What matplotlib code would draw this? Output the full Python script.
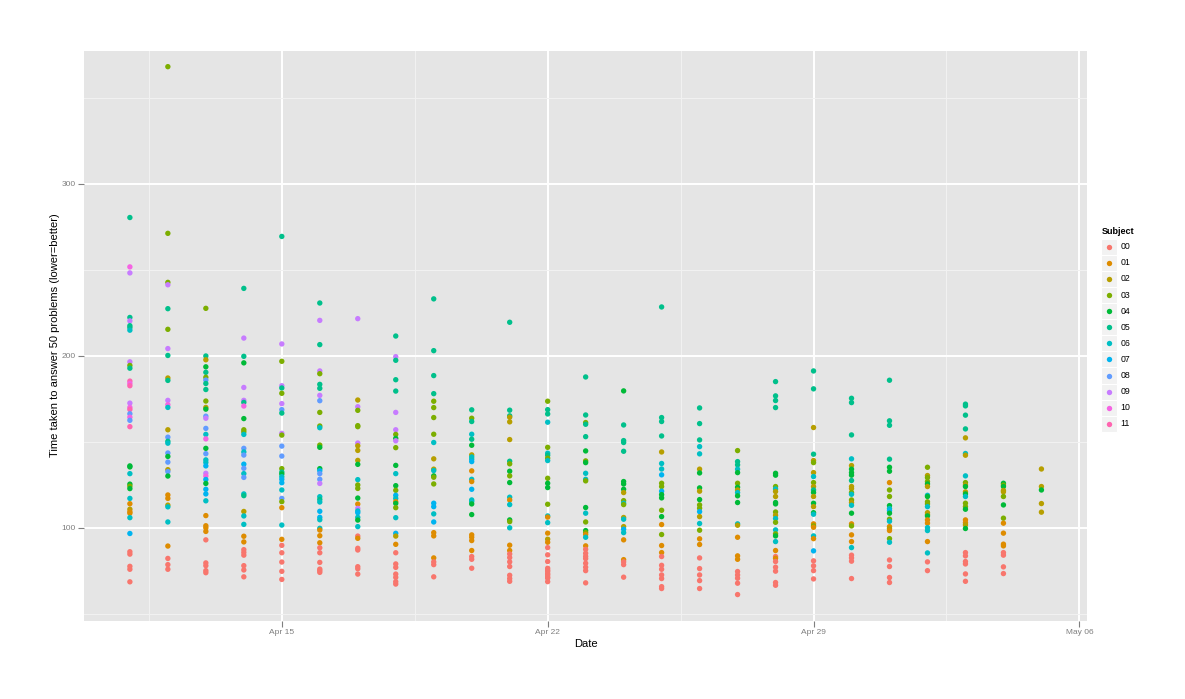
import numpy as np
import pandas as pd
import matplotlib
matplotlib.use("Agg")
import matplotlib.pyplot as plt
import matplotlib.dates as mdates
from matplotlib.patches import Rectangle

plt.rcParams['font.family'] = ['Liberation Sans', 'DejaVu Sans']

subjects = ["00", "01", "02", "03", "04", "05", "06", "07", "08", "09", "10", "11"]
colours = ["#F8766D", "#DE8C00", "#B79F00", "#7CAE00", "#00BA38", "#00C08B",
           "#00BFC4", "#00B4F0", "#619CFF", "#C77CFF", "#F564E3", "#FF64B0"]

apr11 = [("05", 280.5), ("10", 251.8), ("09", 248.3), ("05", 222.4), ("09", 220.4), ("05", 217.6),
         ("05", 216.5), ("06", 215), ("09", 196.6), ("03", 194.5), ("05", 192.9), ("11", 185.4),
         ("10", 184), ("11", 182.7), ("09", 172.6), ("10", 170.1), ("11", 168.9), ("08", 166.4),
         ("10", 164.4), ("08", 162.6), ("11", 158.9), ("04", 136.1), ("04", 135.5), ("06", 131.6),
         ("04", 125.5), ("03", 124.3), ("04", 122.9), ("06", 117.2), ("01", 114.1), ("02", 110.9),
         ("01", 109.4), ("01", 108.6), ("06", 106), ("07", 96.8), ("00", 86.2), ("00", 84.8),
         ("00", 77.7), ("00", 76), ("00", 68.7)]
apr12 = [("03", 368.2), ("03", 271.3), ("03", 242.8), ("09", 241.4), ("05", 227.5), ("03", 215.5),
         ("09", 204.3), ("05", 200.3), ("02", 187.2), ("05", 185.8), ("09", 174.2), ("10", 171.7),
         ("06", 170.1), ("02", 157.1), ("08", 152.8), ("05", 150.4), ("06", 149.3), ("08", 143.6),
         ("04", 141.6), ("08", 138.3), ("02", 133.9), ("08", 132.8), ("04", 130.2), ("01", 119.2),
         ("01", 117.2), ("02", 113.3), ("06", 112.3), ("06", 103.5), ("01", 89.5), ("00", 82.3),
         ("00", 78.7), ("00", 76)]
apr13 = [("03", 227.7), ("05", 200), ("02", 197.8), ("04", 193.7), ("05", 190.5), ("03", 187.6),
         ("08", 186), ("05", 184), ("05", 180.5), ("03", 173.8), ("02", 170.1), ("04", 169.1),
         ("08", 165), ("09", 163.8), ("08", 157.9), ("06", 154.4), ("10", 151.8), ("04", 146.3),
         ("08", 143.2), ("06", 139.6), ("06", 138.1), ("07", 136.1), ("09", 131.8), ("10", 130.2),
         ("07", 128.2), ("04", 125.9), ("07", 122.5), ("07", 119.8), ("06", 115.8), ("01", 107.2),
         ("01", 101.3), ("01", 100.1), ("01", 98), ("00", 93.1), ("00", 79.7), ("00", 78.1),
         ("00", 75.2), ("00", 74)]
apr14 = [("05", 239.3), ("09", 210.4), ("05", 199.8), ("04", 196), ("09", 181.7), ("09", 174.2),
         ("05", 173), ("10", 170.9), ("04", 163.6), ("03", 157.1), ("03", 155.9), ("06", 154.4),
         ("08", 146.3), ("06", 144.2), ("08", 142.4), ("07", 137.1), ("08", 134.7), ("06", 131.6),
         ("08", 129.4), ("06", 119.8), ("05", 118.8), ("02", 109.6), ("06", 107), ("06", 102.1),
         ("01", 95.2), ("01", 91.9), ("00", 87.4), ("00", 85.8), ("00", 84.2), ("00", 78.1),
         ("00", 75.6), ("00", 71.6)]
apr15 = [("05", 269.5), ("09", 207), ("03", 196.9), ("09", 182.7), ("05", 181.4), ("03", 178.3),
         ("09", 172.3), ("08", 168.8), ("05", 166.8), ("09", 155), ("03", 154), ("08", 147.6),
         ("08", 141.8), ("03", 134.5), ("05", 132.5), ("04", 131.4), ("06", 129.8), ("07", 128.3),
         ("07", 126.3), ("06", 122.1), ("08", 117.2), ("03", 115.3), ("01", 111.8), ("06", 101.7),
         ("01", 93.4), ("00", 89.9), ("00", 85.6), ("00", 80.2), ("00", 74.8), ("00", 70.1)]
apr16 = [("05", 230.8), ("09", 220.7), ("05", 206.6), ("09", 191.3), ("03", 189.7), ("05", 183.5),
         ("05", 181.2), ("09", 177.1), ("08", 174), ("03", 167.2), ("03", 159.3), ("06", 158.3),
         ("03", 148.2), ("04", 146.9), ("04", 134.5), ("07", 133.3), ("08", 131.6), ("08", 128.3),
         ("09", 125.9), ("06", 118.2), ("05", 116.6), ("06", 115.1), ("07", 109.7), ("07", 106.2),
         ("06", 104.8), ("06", 99.8), ("01", 98.8), ("01", 95.5), ("01", 91.4), ("00", 88.5),
         ("00", 85.6), ("00", 80), ("00", 76.1), ("00", 75.2), ("00", 74.2)]
apr17 = [("09", 221.7), ("02", 174.4), ("09", 170.5), ("03", 168.4), ("03", 159.5), ("03", 158.9),
         ("09", 149.4), ("02", 147.8), ("02", 145.1), ("02", 139.3), ("04", 137), ("06", 128.1),
         ("03", 125), ("03", 123), ("04", 117.4), ("01", 113.9), ("09", 111.4), ("06", 109.9),
         ("07", 108.9), ("06", 106.2), ("04", 104.6), ("06", 100.8), ("00", 95.3), ("01", 94),
         ("00", 88.2), ("00", 87.2), ("00", 77.5), ("00", 76.3), ("00", 73.2)]
apr18 = [("05", 211.6), ("09", 199.6), ("05", 197.5), ("05", 186.2), ("05", 179.6), ("09", 167.2),
         ("09", 157.1), ("03", 154.4), ("04", 152.1), ("09", 150.7), ("03", 146.7), ("04", 136.4),
         ("06", 131.6), ("04", 124.6), ("03", 121.9), ("07", 119), ("06", 117.2), ("01", 115.3),
         ("04", 114.3), ("03", 111.8), ("06", 106), ("07", 96.9), ("02", 95.3), ("01", 90.5),
         ("00", 85.6), ("00", 79.1), ("00", 77.1), ("00", 73.2), ("00", 71.3), ("00", 68.8),
         ("00", 67.4)]
apr19 = [("05", 233.2), ("05", 203.1), ("05", 188.6), ("05", 178.1), ("03", 173.7), ("03", 170),
         ("03", 164.2), ("03", 154.5), ("06", 149.7), ("02", 140.2), ("02", 134.2), ("06", 133.4),
         ("04", 130.3), ("03", 129.5), ("03", 125.6), ("07", 114.4), ("07", 112.4), ("06", 108.2),
         ("07", 103.5), ("01", 97.3), ("01", 95.4), ("01", 82.6), ("00", 80.3), ("00", 78.7),
         ("00", 71.6)]
apr20 = [("05", 168.7), ("03", 163.8), ("05", 161.9), ("06", 154.5), ("05", 151.6), ("04", 148.1),
         ("02", 142.5), ("06", 141.3), ("06", 140), ("07", 138.6), ("01", 133.2), ("06", 128.3),
         ("01", 127), ("07", 122.5), ("06", 116.3), ("06", 115.4), ("04", 114), ("04", 107.8),
         ("01", 96), ("01", 94.6), ("01", 92.7), ("01", 86.9), ("00", 83.4), ("00", 81.8),
         ("00", 76.6)]
apr21 = [("05", 219.6), ("05", 168.5), ("05", 165.2), ("02", 164.4), ("02", 161.7), ("02", 151.4),
         ("05", 138.8), ("03", 137.3), ("04", 133), ("03", 130.3), ("04", 126.4), ("06", 117.9),
         ("01", 116.3), ("06", 113.6), ("04", 104.7), ("03", 103.7), ("06", 100.1), ("01", 90),
         ("01", 86.9), ("00", 84.9), ("00", 82.8), ("00", 80.3), ("00", 77.6), ("00", 72.5),
         ("00", 70.6), ("00", 69)]
apr22 = [("03", 173.7), ("05", 168.8), ("05", 166.3), ("06", 161.5), ("03", 146.9), ("06", 143.5),
         ("05", 142.3), ("03", 140.6), ("06", 139.2), ("03", 128.9), ("04", 126), ("04", 123.5),
         ("03", 113.8), ("06", 107), ("01", 106.3), ("06", 103.1), ("01", 97), ("02", 93.5),
         ("01", 91.7), ("00", 88.6), ("00", 84.4), ("00", 80.5), ("00", 76.6), ("00", 75.5),
         ("00", 74.7), ("00", 73.5), ("00", 72.7), ("00", 71.5), ("00", 70.8), ("00", 68.8)]
apr23 = [("05", 187.8), ("05", 165.7), ("03", 161.3), ("05", 160.3), ("05", 153.1), ("04", 144.8),
         ("03", 139), ("04", 138), ("06", 131.8), ("06", 128.3), ("03", 127.4), ("04", 111.9),
         ("06", 108.6), ("03", 103.5), ("04", 98.5), ("03", 97.3), ("01", 96.2), ("06", 94.6),
         ("01", 89.6), ("00", 87.6), ("00", 85.3), ("00", 83.5), ("00", 82.2), ("00", 79.5),
         ("00", 77.2), ("00", 75.2), ("00", 68.1)]
apr24 = [("04", 179.7), ("05", 159.9), ("05", 150.8), ("05", 149.7), ("05", 144.6), ("04", 127),
         ("04", 125.6), ("04", 122.5), ("02", 120.6), ("03", 115.9), ("06", 114.4), ("03", 113.6),
         ("02", 106.1), ("06", 105.1), ("02", 100.8), ("07", 99.3), ("06", 97.3), ("01", 93.1),
         ("01", 81.6), ("00", 80.3), ("00", 78.7), ("00", 71.4)]
apr25 = [("05", 228.5), ("05", 164.2), ("05", 161.9), ("05", 153.5), ("02", 144.2), ("06", 137.5),
         ("06", 134.3), ("07", 130.9), ("03", 126), ("03", 124.1), ("07", 121.4), ("04", 119.4),
         ("04", 117.5), ("03", 110.3), ("04", 106.6), ("01", 102), ("03", 96.2), ("01", 89.8),
         ("01", 85.7), ("00", 83.4), ("00", 78.3), ("00", 76), ("00", 72.7), ("00", 70.6),
         ("00", 65.9), ("00", 64.8)]
apr26 = [("05", 169.8), ("05", 160.7), ("05", 151.2), ("06", 147.3), ("06", 143.1), ("02", 134.2),
         ("04", 132), ("04", 123.3), ("02", 121.4), ("04", 116.5), ("03", 113.4), ("03", 111.5),
         ("07", 109.5), ("02", 106.6), ("06", 102.6), ("03", 98.7), ("01", 93.7), ("01", 90.4),
         ("00", 82.6), ("00", 76.4), ("00", 72.7), ("00", 69.4), ("00", 64.8)]
apr27 = [("03", 145), ("05", 138.6), ("05", 136.7), ("06", 134.2), ("04", 132.2), ("03", 126),
         ("04", 123.7), ("02", 122.1), ("06", 120.6), ("04", 118.7), ("04", 114.8), ("06", 102.4),
         ("02", 101.6), ("01", 94.6), ("01", 83.8), ("01", 81.8), ("00", 74.7), ("00", 72.7),
         ("00", 70.8), ("00", 67.9), ("00", 61.3)]
apr28 = [("05", 185.1), ("05", 176.8), ("05", 174.1), ("05", 170), ("04", 131.8), ("04", 130.7),
         ("03", 124.1), ("06", 122.7), ("02", 121.2), ("02", 118.3), ("04", 114.8), ("04", 114),
         ("03", 109.3), ("02", 107.4), ("06", 105.5), ("03", 103.3), ("06", 98.9), ("03", 96.6),
         ("04", 95.4), ("06", 92.1), ("01", 86.9), ("00", 83.4), ("01", 82.4), ("00", 80.5),
         ("00", 77.2), ("00", 74.9), ("00", 68.3), ("00", 66.7)]
apr29 = [("05", 191.3), ("05", 180.9), ("02", 158.4), ("05", 142.9), ("02", 139.2), ("03", 138),
         ("02", 132.2), ("06", 129.9), ("03", 126.4), ("02", 124.1), ("05", 122.1), ("04", 120.6),
         ("02", 118.3), ("04", 114.4), ("02", 112.4), ("04", 108.9), ("06", 108), ("01", 102.4),
         ("03", 101.2), ("01", 100.4), ("06", 95.4), ("01", 93.8), ("07", 86.7), ("00", 80.9),
         ("00", 78), ("00", 75.2), ("00", 70.4)]
apr30 = [("05", 175.4), ("05", 172.9), ("05", 154.1), ("06", 140.2), ("02", 136.3), ("04", 134.2),
         ("04", 132.2), ("04", 130.7), ("05", 127.6), ("02", 124.1), ("02", 122.9), ("03", 120.6),
         ("06", 119.6), ("03", 116.3), ("02", 114.8), ("06", 113.2), ("04", 108.6), ("01", 102.4),
         ("03", 101.2), ("01", 96), ("01", 92.1), ("06", 88.6), ("00", 84.2), ("00", 82.6),
         ("00", 80.7), ("00", 70.6)]
may01 = [("05", 185.9), ("05", 162.3), ("05", 159.7), ("05", 140), ("04", 135.3), ("04", 133),
         ("01", 126.4), ("03", 122.1), ("03", 118.3), ("04", 113), ("06", 111.3), ("07", 110.1),
         ("04", 108.6), ("03", 105.1), ("06", 103.9), ("01", 100.8), ("02", 99.7), ("01", 98.5),
         ("03", 93.8), ("06", 91.7), ("00", 81.4), ("00", 77.6), ("00", 71.2), ("00", 68.3)]
may02 = [("03", 135.3), ("02", 130.5), ("03", 129.3), ("03", 127), ("04", 125.6), ("02", 124.1),
         ("06", 119), ("04", 118.3), ("03", 115.2), ("03", 114), ("06", 112.4), ("02", 108.9),
         ("02", 107.8), ("04", 107), ("01", 104.7), ("01", 102.8), ("06", 100.2), ("06", 98.5),
         ("01", 92.1), ("06", 85.5), ("00", 80.3), ("00", 75.2)]
may03 = [("05", 172), ("05", 171), ("05", 165.6), ("05", 157.6), ("02", 152.4), ("06", 143.3),
         ("02", 142.3), ("06", 130.3), ("03", 126.4), ("02", 125), ("04", 124.1), ("02", 121),
         ("04", 119.8), ("06", 118.3), ("03", 114.4), ("03", 112.4), ("04", 110.9), ("01", 104.7),
         ("01", 103.1), ("02", 101.8), ("04", 99.7), ("00", 85.7), ("00", 83.8), ("00", 80.5),
         ("00", 79.1), ("00", 73.3), ("00", 69)]
may04 = [("04", 126), ("03", 124.9), ("04", 124.1), ("02", 121.8), ("02", 121), ("03", 118.3),
         ("04", 113.4), ("03", 105.7), ("01", 102.8), ("01", 97), ("01", 90.6), ("01", 89.6),
         ("00", 85.7), ("00", 84.2), ("00", 77.4), ("00", 73.5)]
may05 = [("02", 134.3), ("02", 124.1), ("04", 122.1), ("02", 114.2), ("02", 109.2)]

sessions = [("2013-04-11", apr11), ("2013-04-12", apr12), ("2013-04-13", apr13),
            ("2013-04-14", apr14), ("2013-04-15", apr15), ("2013-04-16", apr16),
            ("2013-04-17", apr17), ("2013-04-18", apr18), ("2013-04-19", apr19),
            ("2013-04-20", apr20), ("2013-04-21", apr21), ("2013-04-22", apr22),
            ("2013-04-23", apr23), ("2013-04-24", apr24), ("2013-04-25", apr25),
            ("2013-04-26", apr26), ("2013-04-27", apr27), ("2013-04-28", apr28),
            ("2013-04-29", apr29), ("2013-04-30", apr30), ("2013-05-01", may01),
            ("2013-05-02", may02), ("2013-05-03", may03), ("2013-05-04", may04),
            ("2013-05-05", may05)]

rows = [(pd.Timestamp(d), s, v) for d, pts in sessions for s, v in pts]
df = pd.DataFrame(rows, columns=["date", "subject", "time"])
cmap = dict(zip(subjects, colours))

W, H = 1185, 699
fig = plt.figure(figsize=(W / 100, H / 100), dpi=100)
pl, pr, pt, pb = 84.3, 1087, 50.5, 620.7
ax = fig.add_axes([pl / W, 1 - pb / H, (pr - pl) / W, (pb - pt) / H])
ax.set_facecolor("#E5E5E5")

ax.scatter(mdates.date2num(df["date"]), df["time"], c=df["subject"].map(cmap),
           s=15, linewidths=0, zorder=3)

dmin = mdates.date2num(df["date"].min())
dmax = mdates.date2num(df["date"].max())
pad = 0.05 * (dmax - dmin)
ax.set_xlim(dmin - pad, dmax + pad)
ax.set_ylim(46.1, 377.6)

major = pd.date_range("2013-04-15", periods=4, freq="7D")
ax.set_xticks(mdates.date2num(major))
ax.set_xticklabels([d.strftime("%b %d") for d in major])
ax.set_xticks(mdates.date2num(major) - 3.5, minor=True)
ax.set_yticks([100, 200, 300])
ax.set_yticks([50, 150, 250, 350], minor=True)

ax.grid(which="major", color="white", lw=1.4, zorder=1)
ax.grid(which="minor", color="#F2F2F2", lw=0.7, zorder=0.5)
ax.set_axisbelow(True)
for sp in ax.spines.values():
    sp.set_visible(False)
ax.tick_params(which="major", colors="#7F7F7F", length=4, width=0.8, labelsize=6, pad=2)
ax.tick_params(which="minor", length=0)

ax.set_xlabel("Date", fontsize=8, labelpad=2)
ax.set_ylabel("Time taken to answer 50 problems (lower=better)", fontsize=8, labelpad=1.5)

# legend, laid out in pixel coordinates
lax = fig.add_axes([0, 0, 1, 1], zorder=-1)
lax.set_xlim(0, W)
lax.set_ylim(H, 0)
lax.axis("off")
lax.text(1101.7, 231.5, "Subject", fontsize=6.5, fontweight="bold", va="center", ha="left")
y0, step = 246.7, 16.1
for i, (s, c) in enumerate(zip(subjects, colours)):
    yc = y0 + i * step
    lax.add_patch(Rectangle((1101.2, yc - step / 2), 16, step, facecolor="#F2F2F2",
                            edgecolor="white", lw=0.8))
    lax.scatter([1109.2], [yc], s=15, color=c, linewidths=0)
    lax.text(1120.5, yc, s, fontsize=6.3, va="center", ha="left")

fig.savefig("out.png", dpi=100)
